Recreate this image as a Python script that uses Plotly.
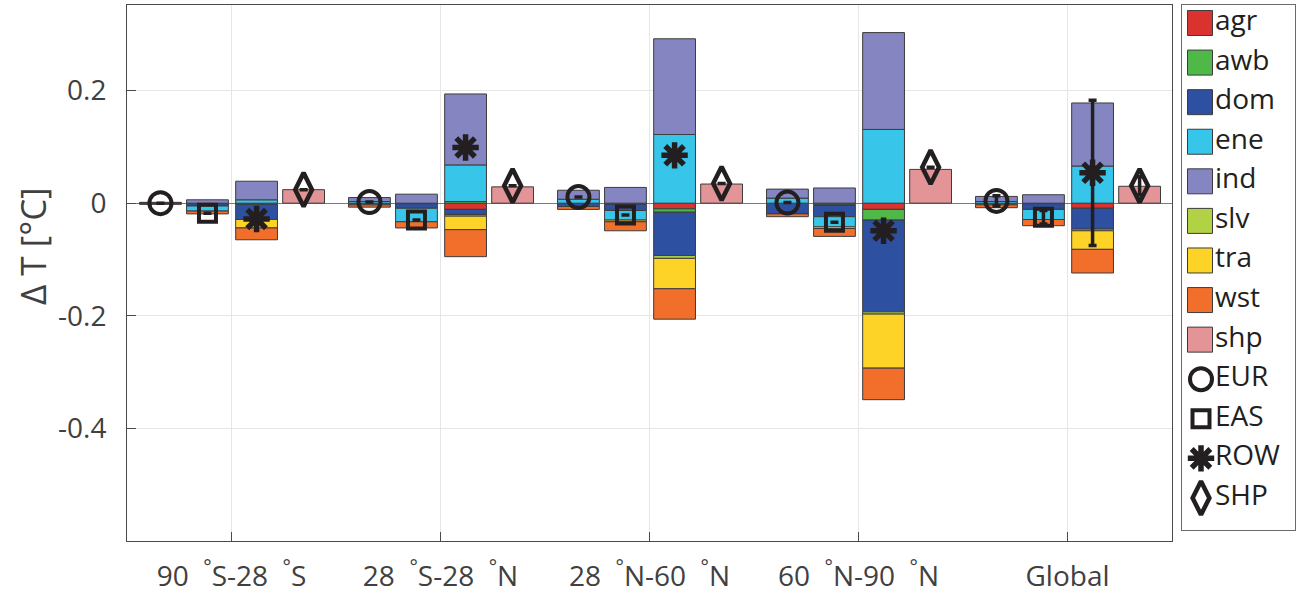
import plotly.graph_objects as go

# ---------------- data ----------------
regions = ["90&nbsp; <sup>°</sup>S-28&nbsp; <sup>°</sup>S", "28&nbsp; <sup>°</sup>S-28&nbsp; <sup>°</sup>N",
           "28&nbsp; <sup>°</sup>N-60&nbsp; <sup>°</sup>N", "60&nbsp; <sup>°</sup>N-90&nbsp; <sup>°</sup>N", "Global"]
sectors = ["agr", "awb", "dom", "ene", "ind", "slv", "tra", "wst"]
sector_colors = ["#d9322f", "#4fb848", "#2d50a1", "#38c5ea", "#8585c1", "#b2d245", "#fed328", "#f26f2b"]
shp_color = "#e29496"

# sector contributions per region (order of regions above) for each emitter
EUR = {
    "agr": [0, 0, 0, 0, 0],
    "awb": [0, 0, 0, 0, 0],
    "dom": [-0.001, -0.003, -0.006, -0.019, -0.003],
    "ene": [0.0005, 0.003, 0.007, 0.009, 0.003],
    "ind": [0.001, 0.007, 0.016, 0.016, 0.009],
    "slv": [0, 0, 0, 0, 0],
    "tra": [0, 0, 0, 0, 0],
    "wst": [-0.001, -0.004, -0.005, -0.005, -0.005],
}
EAS = {
    "agr": [-0.001, -0.001, -0.002, -0.002, -0.001],
    "awb": [0, 0, 0, -0.002, 0],
    "dom": [-0.004, -0.008, -0.011, -0.020, -0.010],
    "ene": [-0.009, -0.024, -0.017, -0.018, -0.018],
    "ind": [0.006, 0.016, 0.028, 0.027, 0.015],
    "slv": [0, 0, 0, 0, 0],
    "tra": [0, 0, -0.003, -0.003, 0],
    "wst": [-0.005, -0.011, -0.016, -0.014, -0.011],
}
ROW = {
    "agr": [-0.002, -0.011, -0.010, -0.011, -0.009],
    "awb": [0, 0.003, -0.006, -0.019, 0],
    "dom": [-0.027, -0.009, -0.077, -0.163, -0.037],
    "ene": [0.006, 0.065, 0.122, 0.131, 0.066],
    "ind": [0.033, 0.126, 0.170, 0.172, 0.112],
    "slv": [0, -0.003, -0.005, -0.004, -0.003],
    "tra": [-0.015, -0.024, -0.054, -0.096, -0.033],
    "wst": [-0.021, -0.048, -0.054, -0.056, -0.042],
}
SHP_bar = [0.024, 0.029, 0.034, 0.060, 0.030]

# totals (markers) and uncertainty (only Global)
EUR_tot = [0.0, 0.002, 0.011, 0.001, 0.004]
EAS_tot = [-0.018, -0.030, -0.021, -0.034, -0.025]
ROW_tot = [-0.028, 0.099, 0.085, -0.049, 0.054]
SHP_tot = [0.024, 0.031, 0.035, 0.064, 0.031]
EUR_err = [None, None, None, None, 0.009]
EAS_err = [None, None, None, None, 0.012]
ROW_err = [None, None, None, None, 0.129]
SHP_err = [None, None, None, None, 0.016]

emitters = ["EUR", "EAS", "ROW", "SHP"]
offsets = [-0.34, -0.115, 0.12, 0.345]
bar_width = 0.2

legend_labels = sectors + ["shp", "EUR", "EAS", "ROW", "SHP"]

# ---------------- figure ----------------
fig = go.Figure()
pos = list(range(1, len(regions) + 1))
edge = dict(color="#3c3c3c", width=1)

for s, col in zip(sectors, sector_colors):
    xs, ys = [], []
    for data, off in zip([EUR, EAS, ROW], offsets[:3]):
        for p, v in zip(pos, data[s]):
            if v != 0:
                xs.append(p + off)
                ys.append(v)
    fig.add_trace(go.Bar(x=xs, y=ys, width=bar_width, marker=dict(color=col, line=edge),
                         name=s, showlegend=False, xaxis="x", yaxis="y"))

fig.add_trace(go.Bar(x=[p + offsets[3] for p in pos], y=SHP_bar, width=bar_width,
                     marker=dict(color=shp_color, line=edge), name="shp", showlegend=False))

mk = "#231f20"
sym = {"EUR": ("circle-open", 22, 4), "EAS": ("square-open", 17, 4),
       "ROW": ("asterisk-open", 22, 5.5), "SHP": ("diamond-tall-open", 24, 4.5)}
for name, tot, err, off in zip(emitters, [EUR_tot, EAS_tot, ROW_tot, SHP_tot],
                               [EUR_err, EAS_err, ROW_err, SHP_err], offsets):
    s, sz, lw = sym[name]
    fig.add_trace(go.Scatter(
        x=[p + off for p in pos], y=tot, mode="markers", name=name, showlegend=False,
        marker=dict(symbol=s, size=sz, color=mk, line=dict(color=mk, width=lw)),
        error_y=dict(type="data", array=err, visible=True, color=mk, thickness=3.5, width=4),
    ))

# ---------------- custom legend on its own axes ----------------
n_sw = len(sectors) + 1
lk = list(range(len(legend_labels)))
fig.add_trace(go.Scatter(
    x=[18] * n_sw, y=lk[:n_sw], mode="markers", xaxis="x2", yaxis="y2", showlegend=False,
    marker=dict(symbol="square", size=25, color=sector_colors + [shp_color],
                line=dict(color="#3c3c3c", width=1)), hoverinfo="skip"))
for i, name in enumerate(emitters):
    s, sz, lw = sym[name]
    fig.add_trace(go.Scatter(
        x=[19], y=[lk[n_sw + i]], mode="markers", xaxis="x2", yaxis="y2", showlegend=False,
        marker=dict(symbol=s, size=sz, color=mk, line=dict(color=mk, width=lw)), hoverinfo="skip"))
fig.add_trace(go.Scatter(
    x=[33] * len(legend_labels), y=lk, mode="text", text=legend_labels, textposition="middle right",
    textfont=dict(size=28, color="#231f20", family="Open Sans"), xaxis="x2", yaxis="y2",
    showlegend=False, hoverinfo="skip"))

W, H = 1298, 604
ml, mr, mt, mb = 127, 3, 5, 63
pw = W - ml - mr
ph = H - mt - mb
main_right = (1172 - ml) / pw
leg_left = (1182 - ml) / pw
leg_bottom = (H - mb - 530) / ph

axcol = "#4a4a4a"
fig.update_layout(
    width=W, height=H, margin=dict(l=ml, r=mr, t=mt, b=mb),
    barmode="relative", paper_bgcolor="white", plot_bgcolor="white",
    font=dict(family="Open Sans", color="#404040"),
    showlegend=False,
    xaxis=dict(domain=[0, main_right], range=[0.5, 5.5], tickvals=pos, ticktext=regions,
               tickfont=dict(size=28, color="#404040"), showgrid=True, gridcolor="#e6e6e6",
               gridwidth=1, zeroline=False, showline=True, linecolor=axcol, linewidth=1,
               mirror=True, ticks="inside", ticklen=9, tickcolor=axcol, ticklabelstandoff=10),
    yaxis=dict(range=[-0.6, 0.352], tickvals=[-0.4, -0.2, 0, 0.2], ticktext=["-0.4", "-0.2", "0", "0.2"],
               tickfont=dict(size=28, color="#404040"), showgrid=True, gridcolor="#e6e6e6",
               zeroline=True, zerolinecolor="#7a7a7a", zerolinewidth=1.3,
               showline=True, linecolor=axcol, linewidth=1, mirror=True,
               ticks="inside", ticklen=9, tickcolor=axcol, ticklabelstandoff=14),
    xaxis2=dict(domain=[leg_left, 1.0], range=[0, 113], anchor="y2", showgrid=False, zeroline=False,
                showticklabels=False, ticks="", showline=True, mirror=True, linecolor="#6a6a6a",
                linewidth=1, fixedrange=True),
    yaxis2=dict(domain=[leg_bottom, 1.0], range=[12.81, -0.455], anchor="x2", showgrid=False,
                zeroline=False, showticklabels=False, ticks="", showline=True, mirror=True,
                linecolor="#6a6a6a", linewidth=1, fixedrange=True),
    annotations=[dict(text="Δ T [°C]", xref="paper", yref="paper", x=(32 - ml) / pw,
                      y=(H - mb - 246) / ph, textangle=-90, showarrow=False,
                      font=dict(size=35, color="#404040", family="Open Sans"),
                      xanchor="center", yanchor="middle")],
)

fig.write_html("out.html", config={"displayModeBar": False},
               post_script="document.body.style.margin='0';document.body.style.padding='0';")
